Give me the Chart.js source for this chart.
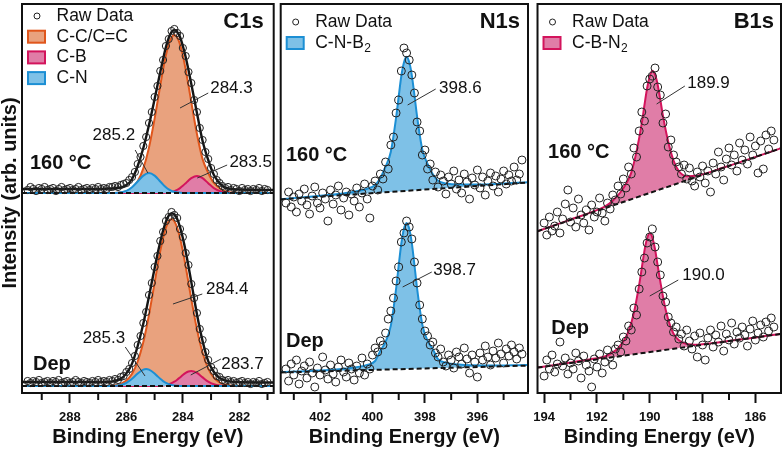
<!DOCTYPE html>
<html>
<head>
<meta charset="utf-8">
<script src="https://cdn.jsdelivr.net/npm/chart.js@4.4.1/dist/chart.umd.min.js"></script>
<style>
  body { margin: 0; background: #fff; }
  #wrap { position: relative; width: 784px; height: 452px; overflow: hidden; background: #fff; }
  canvas { position: absolute; top: 0; }
</style>
</head>
<body>
<div id="wrap">
  <canvas id="c1s" width="284" height="452" style="left:0px"></canvas>
  <canvas id="n1s" width="264" height="452" style="left:272px"></canvas>
  <canvas id="b1s" width="258" height="452" style="left:526px"></canvas>
</div>
<script>
// ---- C1s ----
const c1sRawE = [289.5,289.4,289.3,289.2,289.1,289.0,288.9,288.8,288.7,288.6,
  288.5,288.4,288.3,288.2,288.1,288.0,287.9,287.8,287.7,287.6,
  287.5,287.4,287.3,287.2,287.1,287.0,286.9,286.8,286.7,286.6,
  286.5,286.4,286.3,286.2,286.1,286.0,285.9,285.8,285.7,285.6,
  285.5,285.4,285.3,285.2,285.1,285.0,284.9,284.8,284.7,284.6,
  284.5,284.4,284.3,284.2,284.1,284.0,283.9,283.8,283.7,283.6,
  283.5,283.4,283.3,283.2,283.1,283.0,282.9,282.8,282.7,282.6,
  282.5,282.4,282.3,282.2,282.1,282.0,281.9,281.8,281.7,281.6,
  281.5,281.4,281.3,281.2,281.1,281.0];
const c1sTopRaw = [203,206,204,202,205,204,206,203,204,205,
  202,204,206,203,204,205,203,204,206,203,
  204,205,203,205,204,206,204,205,204,206,
  206,207,206,208,209,210,213,216,221,229,
  236,247,256,270,281,296,307,322,333,347,
  354,362,364,360,357,345,337,321,310,293,
  281,265,253,241,234,225,219,213,210,207,
  205,206,203,205,204,202,205,203,204,202,
  204,203,205,202,204,203];
const c1sDepRaw = [12,10,12,11,13,10,11,12,10,12,
  11,13,10,11,12,10,11,13,11,10,
  12,11,10,12,11,13,11,12,11,13,
  12,14,13,16,17,21,24,30,37,48,
  57,70,81,98,110,126,137,152,161,172,
  176,181,178,175,164,156,140,128,109,95,
  80,64,53,41,33,26,22,17,16,13,
  12,13,11,12,10,11,12,10,11,9,
  11,10,12,9,10,11];

const c1sTopFitE = [289.7,288.6,287.6,287.0,286.6,286.3,286.0,285.8,285.6,285.4,285.2,285.0,284.8,284.7,284.6,284.5,
  284.4,284.3,284.2,284.1,284.0,283.9,283.8,283.7,283.5,283.3,283.1,282.9,282.6,282.3,282.0,280.8];
const c1sTopCC = [200,200,200,200,200,200.3,201.8,205,211.7,224.6,245.4,274.4,307.5,323.5,337.6,348.6,
  355.6,358,355.6,348.6,337.6,323.5,307.5,290.8,259,233.9,220,210,203,200.5,200,200];
const c1sTopCN = [200,200,200,200,200,200.3,202.2,205.8,211.5,217.4,220,217.4,211.5,208.4,205.8,203.7,
  202.2,201.2,200.6,200.3,200,200,200,200,200,200,200,200,200,200,200,200];
const c1sTopCB = [200,200,200,200,200,200,200,200,200,200,200,200,200,200,200.2,200.5,
  201,201.9,203.1,204.9,207.2,209.8,212.5,214.8,217,214.8,209.8,204.9,201,200.1,200,200];
const c1sTopEnv = [204,204,204,204,204.5,205,208,214,227,245,268,294,321,334,346,355,
  361,363,361,356,347,336,323,309,280,252,233,218,207,204,203.5,203];

const c1sDepFitE = [289.7,288.6,287.6,287.0,286.7,286.4,286.2,286.0,285.8,285.6,285.4,285.3,285.2,285.0,284.9,284.8,284.7,
  284.6,284.5,284.4,284.3,284.2,284.1,284.0,283.9,283.8,283.7,283.5,283.3,283.1,282.9,282.7,282.4,282.1,280.8];
const c1sDepCC = [7,7,7,7,7.1,7.8,9.2,12.5,19.2,31.5,51,63.7,78.1,110.3,126.7,141.9,155.1,
  165.3,171.8,174,171.8,165.3,155.1,141.9,126.7,110.3,93.9,63.7,40.3,24.5,15.3,10.5,7.8,7.1,7];
const c1sDepCN = [7,7,7,7,7,7.3,8,10.1,14.2,19.5,23.4,24,23.4,19.5,16.8,14.2,11.9,
  10.1,8.9,8,7.5,7.3,7.1,7,7,7,7,7,7,7,7,7,7,7,7];
const c1sDepCB = [7,7,7,7,7,7,7,7,7,7,7,7,7,7,7.1,7.2,7.5,
  7.9,8.7,9.8,11.3,13.3,15.6,18,20.1,21.5,22,20.1,15.6,11.3,8.7,7.5,7,7,7];
const c1sDepEnv = [11,11,11,11,11,12.1,14.2,19.6,29.4,47,69.4,82.7,96.5,124.8,138.6,151.3,162.5,
  171.3,177.4,179.8,178.6,173.9,165.8,154.9,141.8,126.8,110.9,78.8,51.9,31.8,21,15,11.8,11,10.5];

const c1sBaseE = [289.7, 280.8];
const c1sTopBase = [200, 200];
const c1sDepBase = [7, 7];

// ---- N1s ----
const n1sRawE = [403.3,403.2,403.1,403.0,402.9,402.8,402.7,402.6,402.5,402.4,
  402.3,402.2,402.1,402.0,401.9,401.8,401.7,401.6,401.5,401.4,
  401.3,401.2,401.1,401.0,400.9,400.8,400.7,400.6,400.5,400.4,
  400.3,400.2,400.1,400.0,399.9,399.8,399.7,399.6,399.5,399.4,
  399.3,399.2,399.1,399.0,398.9,398.8,398.7,398.6,398.5,398.4,
  398.3,398.2,398.1,398.0,397.9,397.8,397.7,397.6,397.5,397.4,
  397.3,397.2,397.1,397.0,396.9,396.8,396.7,396.6,396.5,396.4,
  396.3,396.2,396.1,396.0,395.9,395.8,395.7,395.6,395.5,395.4,
  395.3,395.2,395.1,395.0,394.9,394.8,394.7,394.6,394.5,394.4,
  394.3];
const n1sTopRaw = [190,201,186,196,181,199,192,204,188,179,
  197,206,190,185,200,194,172,203,189,198,
  207,183,195,201,178,199,192,205,186,200,
  209,194,175,207,212,203,219,214,231,224,
  248,256,280,293,322,345,340,333,318,300,
  271,262,238,243,224,229,213,221,206,218,
  212,199,216,209,222,204,213,200,219,211,
  194,215,208,223,205,216,198,212,220,207,
  217,201,214,222,209,218,212,226,213,219,
  233];
const n1sDepRaw = [24,12,29,18,33,9,22,27,15,31,
  20,6,25,18,36,23,14,28,19,11,
  26,33,21,16,30,24,13,27,20,35,
  18,29,24,38,45,41,52,48,60,74,
  82,95,112,126,151,160,172,166,154,131,
  110,88,74,62,57,48,51,40,36,44,
  31,27,38,33,25,41,36,29,45,34,
  20,38,31,16,40,33,47,36,28,42,
  35,50,39,30,44,37,48,41,34,45,
  39];
const n1sFitE = [403.5,402.4,401.4,400.7,400.2,399.9,399.7,399.5,399.3,399.1,399.0,398.9,398.8,
  398.7,398.6,398.5,398.4,398.3,398.1,397.9,397.7,397.5,397.2,396.7,395.7,394.1];
const n1sTopCNB = [193.8,196.3,198.7,201.3,204.2,208,215.1,226.3,241.3,275.2,296.7,317,330.6,
  336.2,330.9,317.7,297.8,276.6,243.4,229.1,218.7,212.3,209.5,208.4,208.6,210.8];
const n1sDepCNB = [21.0,22.1,23.6,25.5,28.1,32.0,42.3,51.2,67.4,104.1,127.6,149.5,164.2,
  170.1,164.4,149.8,128.0,104.7,68.3,52.4,43.8,33.8,30.3,28.4,27.5,28.0];
const n1sBaseE = [403.5, 394.1];
const n1sTopBase = [193.6, 210.4];
const n1sDepBase = [20.5, 27.4];

// ---- B1s ----
const b1sRawE = [194.0,193.9,193.8,193.7,193.6,193.5,193.4,193.3,193.2,193.1,
  193.0,192.9,192.8,192.7,192.6,192.5,192.4,192.3,192.2,192.1,
  192.0,191.9,191.8,191.7,191.6,191.5,191.4,191.3,191.2,191.1,
  191.0,190.9,190.8,190.7,190.6,190.5,190.4,190.3,190.2,190.1,
  190.0,189.9,189.8,189.7,189.6,189.5,189.4,189.3,189.2,189.1,
  189.0,188.9,188.8,188.7,188.6,188.5,188.4,188.3,188.2,188.1,
  188.0,187.9,187.8,187.7,187.6,187.5,187.4,187.3,187.2,187.1,
  187.0,186.9,186.8,186.7,186.6,186.5,186.4,186.3,186.2,186.1,
  186.0,185.9,185.8,185.7,185.6,185.5,185.4,185.3];
const b1sTopRaw = [170,158,176,162,167,181,160,174,189,203,
  171,185,166,194,178,170,183,163,188,176,
  181,195,180,172,190,184,198,193,207,199,
  214,205,226,219,245,236,262,281,272,307,
  314,317,325,306,298,270,279,246,253,238,
  231,226,219,228,214,225,212,207,221,216,
  227,210,222,201,230,219,241,226,213,234,
  245,228,238,222,250,233,243,229,256,238,
  247,220,252,224,258,244,262,253];
const b1sDepRaw = [17,33,24,38,21,29,51,27,35,19,
  30,24,40,32,15,37,28,22,6,34,
  26,39,20,31,43,36,28,44,48,41,
  56,52,67,63,85,78,104,121,135,150,
  156,164,146,131,118,97,91,76,70,61,
  66,54,59,47,63,52,44,57,36,60,
  48,33,55,63,46,58,51,67,42,59,
  53,70,49,61,55,66,58,47,64,72,
  53,60,68,56,71,62,75,66];
const b1sTopFitE = [194.25,193.0,192.2,191.7,191.4,191.1,190.9,190.7,190.5,190.3,190.2,190.1,190.0,
  189.9,189.8,189.7,189.6,189.5,189.3,189.1,188.9,188.6,188.2,187.2,185.05];
const b1sTopCBN = [161.8,173.4,180.9,186.5,192.3,201.0,208.9,220.4,241.6,270.1,288.0,304.7,316.5,
  322.3,318.3,308.3,293.4,277.3,251.2,232.4,222.0,216.8,217.4,225.5,244.6];
const b1sDepFitE = [194.25,193.0,192.2,191.7,191.4,191.2,191.0,190.8,190.6,190.4,190.3,190.2,190.1,
  190.0,189.9,189.8,189.7,189.6,189.4,189.2,189.0,188.7,188.3,187.3,185.05];
const b1sDepCBN = [25.4,30.4,33.9,36.5,40.6,44.8,51.6,61.8,80.3,108.3,125.3,142.4,154.5,
  159.7,155.3,143.8,127.5,111.3,83.5,65.2,55.3,49.8,48.3,51.1,59.0];
const b1sBaseE = [194.25, 185.05];
const b1sTopBase = [161.8, 244.6];
const b1sDepBase = [25.4, 59.0];

// ---- text ----
const c1sLegend = ['Raw Data', 'C-C/C=C', 'C-B', 'C-N'];
const c1sPeaks = ['284.3', '285.2', '283.5', '284.4', '285.3', '283.7'];
const n1sPeaks = ['398.6', '398.7'];
const b1sPeaks = ['189.9', '190.0'];
const samples = ['160 °C', 'Dep'];

const FONT = '"Liberation Sans", Arial, Helvetica, sans-serif';
Chart.defaults.font.family = FONT;
Chart.defaults.color = '#111';

const ORANGE = { line: '#E0561C', fill: '#E9A27E' };
const PINK = { line: '#D3145C', fill: '#E07DA7' };
const BLUE = { line: '#1C8FD4', fill: '#7EC1E7' };

const pts = (xs, ys) => xs.map((x, i) => ({ x: x, y: ys[i] }));

function rawSet(xs, ys, r) {
    return { data: pts(xs, ys), showLine: false, pointRadius: r, pointHoverRadius: r,
        pointBorderWidth: 1, pointBorderColor: '#222', pointBackgroundColor: 'rgba(0,0,0,0)' };
}
function fitSet(xs, ys, col, fillTo) {
    return { data: pts(xs, ys), borderColor: col.line, backgroundColor: col.fill, borderWidth: 2,
        pointRadius: 0, cubicInterpolationMode: 'monotone', fill: fillTo };
}
function envSet(xs, ys) {
    return { data: pts(xs, ys), borderColor: '#151515', borderWidth: 2.4, pointRadius: 0,
        cubicInterpolationMode: 'monotone', fill: false };
}
function baseSet(xs, ys) {
    return { data: pts(xs, ys), borderColor: '#111', borderWidth: 2, borderDash: [5, 3],
        pointRadius: 0, fill: false };
}

function decorPlugin(d) {
    return {
        id: 'decor',
        afterDraw(chart) {
            const { ctx, chartArea: a, scales: { x, y } } = chart;
            ctx.save();
            // minor ticks + frame
            ctx.strokeStyle = '#111';
            ctx.lineWidth = 2;
            x.ticks.forEach(t => {
                if (t.value % 2 === 0) return;
                const px = x.getPixelForValue(t.value);
                ctx.beginPath();
                ctx.moveTo(px, a.bottom);
                ctx.lineTo(px, a.bottom + 7);
                ctx.stroke();
            });
            ctx.strokeRect(a.left, a.top, a.right - a.left, a.bottom - a.top);

            // leader lines
            ctx.lineWidth = 1;
            ctx.strokeStyle = '#333';
            d.leaders.forEach(l => {
                ctx.beginPath();
                ctx.moveTo(x.getPixelForValue(l[0]), y.getPixelForValue(l[1]));
                ctx.lineTo(x.getPixelForValue(l[2]), y.getPixelForValue(l[3]));
                ctx.stroke();
            });

            // peak positions and sample names
            ctx.fillStyle = '#111';
            ctx.textBaseline = 'middle';
            ctx.textAlign = 'left';
            d.notes.forEach(n => {
                ctx.font = (n.bold ? 'bold 20px ' : '17px ') + FONT;
                ctx.fillText(n.text, x.getPixelForValue(n.x), y.getPixelForValue(n.y));
            });

            // core level name
            ctx.font = 'bold 22px ' + FONT;
            ctx.textAlign = 'right';
            ctx.fillText(d.title, a.right - d.titleInset, a.top + 18);

            // legend
            ctx.textAlign = 'left';
            d.legend.forEach((item, i) => {
                const cy = a.top + d.legendTop + i * d.legendStep;
                if (item.color) {
                    ctx.fillStyle = item.color.fill;
                    ctx.fillRect(a.left + 6, cy - 6, 17, 12);
                    ctx.strokeStyle = item.color.line;
                    ctx.lineWidth = 2;
                    ctx.strokeRect(a.left + 6, cy - 6, 17, 12);
                } else {
                    ctx.strokeStyle = '#222';
                    ctx.lineWidth = 1;
                    ctx.beginPath();
                    ctx.arc(a.left + 15, cy, 3, 0, Math.PI * 2);
                    ctx.stroke();
                }
                ctx.fillStyle = '#111';
                ctx.font = '17.5px ' + FONT;
                ctx.fillText(item.text, a.left + 34.5, cy);
                if (item.sub) {
                    const w = ctx.measureText(item.text).width;
                    ctx.font = '12px ' + FONT;
                    ctx.fillText(item.sub, a.left + 35 + w, cy + 6);
                }
            });

            if (d.yTitle) {
                ctx.translate(a.left - 11.5, 193);
                ctx.rotate(-Math.PI / 2);
                ctx.textAlign = 'center';
                ctx.font = 'bold 20px ' + FONT;
                ctx.fillStyle = '#111';
                ctx.fillText(d.yTitle, 0, 0);
            }
            ctx.restore();
        }
    };
}

function makePanel(id, p) {
    return new Chart(document.getElementById(id), {
        type: 'line',
        data: { datasets: p.datasets },
        options: {
            responsive: false,
            animation: false,
            events: [],
            layout: { padding: p.pad, autoPadding: false },
            plugins: { legend: { display: false }, tooltip: { enabled: false } },
            scales: {
                x: {
                    type: 'linear',
                    reverse: true,
                    min: p.xMin,
                    max: p.xMax,
                    border: { display: false },
                    grid: {
                        drawOnChartArea: false,
                        tickLength: 10,
                        tickWidth: 2,
                        tickColor: c => (c.tick && c.tick.value % 2 === 0) ? '#111' : 'rgba(0,0,0,0)'
                    },
                    ticks: {
                        stepSize: 1,
                        includeBounds: false,
                        autoSkip: false,
                        maxRotation: 0,
                        padding: 7,
                        color: '#111',
                        font: { size: 13, weight: 'bold' },
                        callback: v => (v % 2 === 0 ? String(v) : '')
                    },
                    title: {
                        display: true,
                        text: 'Binding Energy (eV)',
                        color: '#111',
                        font: { size: 20, weight: 'bold' },
                        padding: { top: 0, bottom: 3 }
                    },
                    afterFit: s => { s.height = 59; }
                },
                y: { display: false, min: 0, max: 389 }
            }
        },
        plugins: [decorPlugin(p.decor)]
    });
}

// C1s panel: 0 raw top, 1 raw dep, 2 env top, 3 env dep, 4 base top, 5 base dep,
// 6 C-N top, 7 C-B top, 8 C-N dep, 9 C-B dep, 10 C-C top, 11 C-C dep
makePanel('c1s', {
    xMin: 280.78, xMax: 289.70,
    pad: { left: 22, right: 10.3, top: 4, bottom: 0 },
    datasets: [
        rawSet(c1sRawE, c1sTopRaw, 3.6),
        rawSet(c1sRawE, c1sDepRaw, 3.6),
        envSet(c1sTopFitE, c1sTopEnv),
        envSet(c1sDepFitE, c1sDepEnv),
        baseSet(c1sBaseE, c1sTopBase),
        baseSet(c1sBaseE, c1sDepBase),
        fitSet(c1sTopFitE, c1sTopCN, BLUE, 4),
        fitSet(c1sTopFitE, c1sTopCB, PINK, 4),
        fitSet(c1sDepFitE, c1sDepCN, BLUE, 5),
        fitSet(c1sDepFitE, c1sDepCB, PINK, 5),
        fitSet(c1sTopFitE, c1sTopCC, ORANGE, 4),
        fitSet(c1sDepFitE, c1sDepCC, ORANGE, 5)
    ],
    decor: {
        title: 'C1s', titleInset: 10, yTitle: 'Intensity (arb. units)',
        legendTop: 12, legendStep: 20.7,
        legend: [
            { text: c1sLegend[0] },
            { text: c1sLegend[1], color: ORANGE },
            { text: c1sLegend[2], color: PINK },
            { text: c1sLegend[3], color: BLUE }
        ],
        notes: [
            { text: c1sPeaks[0], x: 283.03, y: 305 },
            { text: c1sPeaks[1], x: 287.20, y: 258 },
            { text: c1sPeaks[2], x: 282.35, y: 231 },
            { text: c1sPeaks[3], x: 283.18, y: 104 },
            { text: c1sPeaks[4], x: 287.55, y: 55 },
            { text: c1sPeaks[5], x: 282.64, y: 29 },
            { text: samples[0], x: 289.42, y: 230, bold: true },
            { text: samples[1], x: 289.31, y: 29, bold: true }
        ],
        leaders: [
            [284.10, 285, 283.10, 300],
            [285.69, 243, 285.24, 220],
            [283.49, 215, 282.43, 228],
            [284.35, 89, 283.31, 99],
            [286.04, 46, 285.34, 17],
            [283.72, 18, 282.65, 34]
        ]
    }
});

// N1s panel: 0 raw top, 1 raw dep, 2 base top, 3 base dep, 4 fit top, 5 fit dep
makePanel('n1s', {
    xMin: 394.07, xMax: 403.50,
    pad: { left: 8.7, right: 8, top: 4, bottom: 0 },
    datasets: [
        rawSet(n1sRawE, n1sTopRaw, 4),
        rawSet(n1sRawE, n1sDepRaw, 4),
        baseSet(n1sBaseE, n1sTopBase),
        baseSet(n1sBaseE, n1sDepBase),
        fitSet(n1sFitE, n1sTopCNB, BLUE, 2),
        fitSet(n1sFitE, n1sDepCNB, BLUE, 3)
    ],
    decor: {
        title: 'N1s', titleInset: 8,
        legendTop: 18, legendStep: 21,
        legend: [
            { text: 'Raw Data' },
            { text: 'C-N-B', sub: '2', color: BLUE }
        ],
        notes: [
            { text: n1sPeaks[0], x: 397.46, y: 305 },
            { text: n1sPeaks[1], x: 397.68, y: 123 },
            { text: samples[0], x: 403.30, y: 238, bold: true },
            { text: samples[1], x: 403.30, y: 52, bold: true }
        ],
        leaders: [
            [398.66, 288, 397.59, 304],
            [398.85, 106, 397.74, 121]
        ]
    }
});

// B1s panel
makePanel('b1s', {
    xMin: 185.03, xMax: 194.25,
    pad: { left: 10, right: 3, top: 4, bottom: 0 },
    datasets: [
        rawSet(b1sRawE, b1sTopRaw, 4),
        rawSet(b1sRawE, b1sDepRaw, 4),
        baseSet(b1sBaseE, b1sTopBase),
        baseSet(b1sBaseE, b1sDepBase),
        fitSet(b1sTopFitE, b1sTopCBN, PINK, 2),
        fitSet(b1sDepFitE, b1sDepCBN, PINK, 3)
    ],
    decor: {
        title: 'B1s', titleInset: 7,
        legendTop: 18, legendStep: 21,
        legend: [
            { text: 'Raw Data' },
            { text: 'C-B-N', sub: '2', color: PINK }
        ],
        notes: [
            { text: b1sPeaks[0], x: 188.58, y: 310 },
            { text: b1sPeaks[1], x: 188.77, y: 118 },
            { text: samples[0], x: 193.85, y: 241, bold: true },
            { text: samples[1], x: 193.73, y: 65, bold: true }
        ],
        leaders: [
            [189.74, 289, 188.67, 307],
            [190.0, 97, 188.92, 113]
        ]
    }
});
</script>
</body>
</html>
